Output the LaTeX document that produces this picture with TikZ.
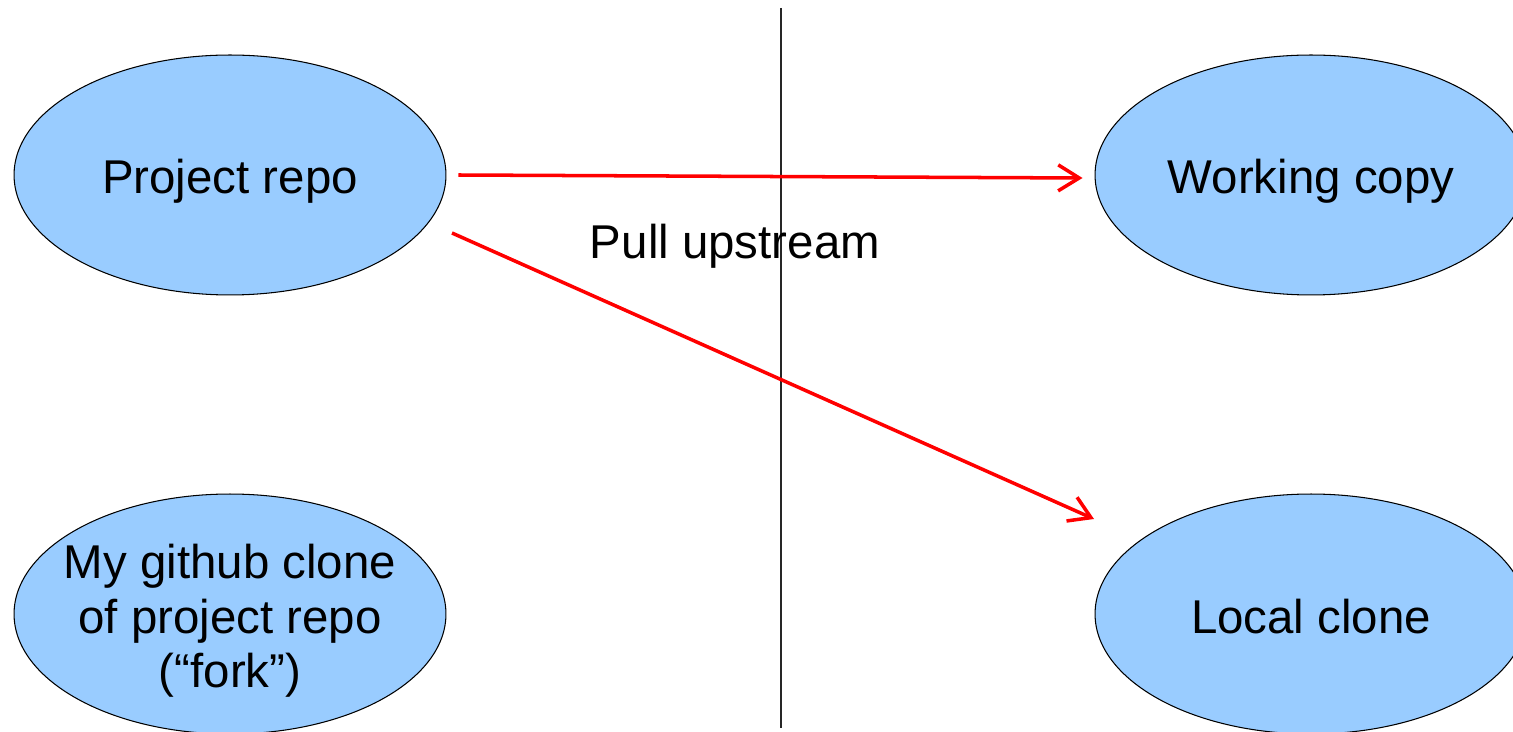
\documentclass[tikz,border=0pt]{standalone}
\usepackage{fontspec}
\setmainfont{Liberation Sans}
\usetikzlibrary{shapes.geometric,arrows.meta,calc}
\definecolor{skyfill}{HTML}{99CCFF}
\begin{document}
\begin{tikzpicture}[x=0.02cm,y=-0.02cm,
  repo/.style={ellipse, draw=black, line width=0.6pt, fill=skyfill,
    minimum width=8.64cm, minimum height=4.8cm, inner sep=0pt},
  repotext/.style={align=center, inner sep=0pt,
    font=\fontsize{27}{31}\selectfont},
  pullarrow/.style={draw=red, line width=2pt,
    -{Straight Barb[length=0.42cm,width=0.52cm]}},
  divider/.style={draw=black!85, line width=1.1pt},
  caption/.style={font=\fontsize{27}{31}\selectfont}]
  % page frame
  \clip (0,0) rectangle (1513,732);

  % repositories
  \node[repo] (pr) at (230,175) {};
  \node[repo] (fk) at (230,614) {};
  \node[repo] (wc) at (1311,175) {};
  \node[repo] (lc) at (1311,614) {};

  \node[repotext] (prt) at (230,181) {Project repo};
  \node[repotext] (fkt) at (230,621) {My github clone\\of project repo\\(“fork”)};
  \node[repotext] (wct) at (1311,181) {Working copy};
  \node[repotext] (lct) at (1311,617) {Local clone};

  % separator between remote and local side
  \coordinate (divtop) at (781,8);
  \coordinate (divbot) at (781,728);
  \draw[divider] (divtop) -- (divbot);

  \node[caption] (pull) at (735,246) {Pull upstream};

  % pull arrows
  \draw[pullarrow] ($(pr.east)+(12,0)$) -- ($(wc.west)+(-12,3)$);
  \draw[pullarrow] ($(pr.center)+(222,58)$) -- ($(lc.center)+(-217,-95)$);
\end{tikzpicture}
\end{document}
